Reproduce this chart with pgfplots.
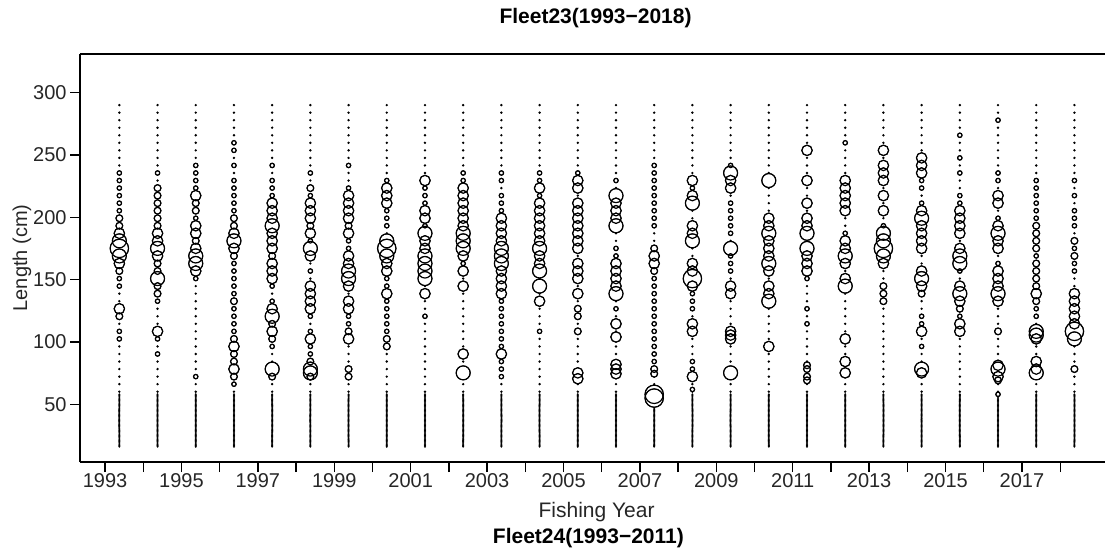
\documentclass[border=0pt]{standalone}
\usepackage{pgfplots}
\pgfplotsset{compat=1.18}
\usepackage{pgfplotstable}
\usepackage{fontspec}
\setmainfont{Liberation Sans}

% sparse length bins (every year)
\pgfplotstableread[row sep=\\]{
len\\ 290\\ 283.95\\ 277.9\\ 271.85\\ 265.8\\ 259.75\\ 253.7\\ 247.65\\ 241.6\\ 235.55\\
229.5\\ 223.45\\ 217.4\\ 211.35\\ 205.3\\ 199.25\\ 193.2\\ 187.15\\ 181.1\\ 175.05\\
169\\ 162.95\\ 156.9\\ 150.85\\ 144.8\\ 138.75\\ 132.7\\ 126.65\\ 120.6\\ 114.55\\
108.5\\ 102.45\\ 96.4\\ 90.35\\ 84.3\\ 78.25\\ 72.2\\ 66.15\\ 60.1\\
}\sparsetab
% dense length bins (every year)
\pgfplotstableread[row sep=\\]{
len\\ 16\\ 17\\ 18\\ 19\\ 20\\ 21\\ 22\\ 23\\ 24\\ 25\\ 26\\ 27\\ 28\\ 29\\ 30\\ 31\\ 32\\ 33\\ 34\\ 35\\
36\\ 37\\ 38\\ 39\\ 40\\ 41\\ 42\\ 43\\ 44\\ 45\\ 46\\ 47\\ 48\\ 49\\ 50\\ 51\\ 52\\ 53\\ 54\\ 55\\ 56\\ 57\\ 58\\
}\densetab
% bubbles: year, length, radius (pt)
\pgfplotstableread[row sep=\\]{
yr len r\\
1993 235.55 0.9\\ 1993 229.5 0.9\\ 1993 223.45 0.9\\ 1993 217.4 0.9\\ 1993 211.35 0.9\\ 1993 205.3 0.9\\ 1993 199.25 1.5\\ 1993 193.2 1.5\\ 1993 187.15 2.4\\ 1993 181.1 3.3\\ 1993 175.05 4.4\\ 1993 169 3.3\\ 1993 162.95 2.4\\ 1993 156.9 1.5\\ 1993 150.85 0.9\\ 1993 144.8 0.9\\ 1993 126.65 2.4\\ 1993 120.6 1.5\\ 1993 108.5 0.9\\ 1993 102.45 0.9\\
1994 235.55 0.9\\ 1994 223.45 1.5\\ 1994 217.4 1.5\\ 1994 211.35 1.5\\ 1994 205.3 1.5\\ 1994 199.25 1.5\\ 1994 193.2 1.5\\ 1994 187.15 2.4\\ 1994 181.1 2.4\\ 1994 175.05 3.3\\ 1994 169 2.4\\ 1994 162.95 1.5\\ 1994 156.9 1.5\\ 1994 150.85 3.3\\ 1994 144.8 1.5\\ 1994 138.75 1.5\\ 1994 132.7 0.9\\ 1994 108.5 2.4\\ 1994 102.45 0.9\\ 1994 90.35 0.9\\
1995 241.6 0.9\\ 1995 235.55 0.9\\ 1995 229.5 0.9\\ 1995 223.45 0.9\\ 1995 217.4 2.4\\ 1995 211.35 1.5\\ 1995 205.3 1.5\\ 1995 199.25 0.9\\ 1995 193.2 2.4\\ 1995 187.15 2.4\\ 1995 181.1 1.5\\ 1995 175.05 2.4\\ 1995 169 3.3\\ 1995 162.95 3.3\\ 1995 156.9 2.4\\ 1995 150.85 0.9\\ 1995 72.2 0.9\\
1996 259.75 0.9\\ 1996 253.7 0.9\\ 1996 241.6 0.9\\ 1996 229.5 0.9\\ 1996 223.45 0.9\\ 1996 217.4 0.9\\ 1996 211.35 0.9\\ 1996 205.3 0.9\\ 1996 199.25 1.5\\ 1996 193.2 1.5\\ 1996 187.15 2.4\\ 1996 181.1 3.3\\ 1996 175.05 2.4\\ 1996 169 1.5\\ 1996 162.95 0.9\\ 1996 156.9 0.9\\ 1996 150.85 0.9\\ 1996 144.8 0.9\\ 1996 138.75 0.9\\ 1996 132.7 1.5\\ 1996 126.65 0.9\\ 1996 120.6 0.9\\ 1996 114.55 0.9\\ 1996 108.5 0.9\\ 1996 102.45 1.5\\ 1996 96.4 2.4\\ 1996 90.35 1.5\\ 1996 84.3 1.5\\ 1996 78.25 2.4\\ 1996 72.2 1.5\\ 1996 66.15 0.9\\
1997 241.6 0.9\\ 1997 229.5 0.9\\ 1997 223.45 0.9\\ 1997 217.4 0.9\\ 1997 211.35 2.4\\ 1997 205.3 2.4\\ 1997 199.25 2.4\\ 1997 193.2 3.3\\ 1997 187.15 2.4\\ 1997 181.1 2.4\\ 1997 175.05 2.4\\ 1997 169 1.5\\ 1997 162.95 2.4\\ 1997 156.9 2.4\\ 1997 150.85 2.4\\ 1997 144.8 0.9\\ 1997 132.7 0.9\\ 1997 126.65 2.4\\ 1997 120.6 3.3\\ 1997 114.55 1.5\\ 1997 108.5 2.4\\ 1997 102.45 1.5\\ 1997 96.4 0.9\\ 1997 78.25 3.3\\ 1997 72.2 1.5\\
1998 235.55 0.9\\ 1998 223.45 1.5\\ 1998 217.4 0.9\\ 1998 211.35 2.4\\ 1998 205.3 2.4\\ 1998 199.25 2.4\\ 1998 193.2 1.5\\ 1998 187.15 2.4\\ 1998 181.1 0.9\\ 1998 175.05 3.3\\ 1998 169 2.4\\ 1998 156.9 0.9\\ 1998 144.8 2.4\\ 1998 138.75 2.4\\ 1998 132.7 2.4\\ 1998 126.65 2.4\\ 1998 120.6 0.9\\ 1998 108.5 0.9\\ 1998 102.45 2.4\\ 1998 96.4 0.9\\ 1998 90.35 0.9\\ 1998 84.3 1.5\\ 1998 78.25 3.3\\ 1998 75.2 3.3\\ 1998 72.2 1.5\\
1999 241.6 0.9\\ 1999 223.45 0.9\\ 1999 217.4 2.4\\ 1999 211.35 2.4\\ 1999 205.3 2.4\\ 1999 199.25 2.4\\ 1999 193.2 1.5\\ 1999 187.15 2.4\\ 1999 181.1 0.9\\ 1999 175.05 0.9\\ 1999 169 2.4\\ 1999 162.95 2.4\\ 1999 156.9 3.3\\ 1999 150.85 3.3\\ 1999 144.8 2.4\\ 1999 132.7 2.4\\ 1999 126.65 2.4\\ 1999 120.6 0.9\\ 1999 114.55 0.9\\ 1999 108.5 1.5\\ 1999 102.45 2.4\\ 1999 78.25 1.5\\ 1999 72.2 1.5\\
2000 229.5 0.9\\ 2000 223.45 2.4\\ 2000 217.4 2.4\\ 2000 211.35 2.4\\ 2000 205.3 0.9\\ 2000 199.25 0.9\\ 2000 193.2 0.9\\ 2000 181.1 3.3\\ 2000 175.05 4.4\\ 2000 169 3.3\\ 2000 162.95 2.4\\ 2000 156.9 2.4\\ 2000 150.85 0.9\\ 2000 144.8 0.9\\ 2000 138.75 2.4\\ 2000 132.7 0.9\\ 2000 126.65 0.9\\ 2000 120.6 0.9\\ 2000 114.55 0.9\\ 2000 108.5 0.9\\ 2000 102.45 1.5\\ 2000 96.4 1.5\\
2001 229.5 2.4\\ 2001 223.45 0.9\\ 2001 217.4 0.9\\ 2001 211.35 0.9\\ 2001 205.3 2.4\\ 2001 199.25 2.4\\ 2001 193.2 0.9\\ 2001 187.15 3.3\\ 2001 181.1 2.4\\ 2001 175.05 2.4\\ 2001 169 3.3\\ 2001 162.95 3.3\\ 2001 156.9 3.3\\ 2001 150.85 3.3\\ 2001 138.75 2.4\\ 2001 120.6 0.9\\
2002 235.55 0.9\\ 2002 229.5 0.9\\ 2002 223.45 2.4\\ 2002 217.4 2.4\\ 2002 211.35 2.4\\ 2002 205.3 2.4\\ 2002 199.25 2.4\\ 2002 193.2 2.4\\ 2002 187.15 3.3\\ 2002 181.1 3.3\\ 2002 175.05 3.3\\ 2002 169 2.4\\ 2002 162.95 0.9\\ 2002 156.9 2.4\\ 2002 144.8 2.4\\ 2002 90.35 2.4\\ 2002 75.2 3.3\\
2003 235.55 0.9\\ 2003 229.5 0.9\\ 2003 217.4 0.9\\ 2003 211.35 0.9\\ 2003 205.3 0.9\\ 2003 199.25 2.4\\ 2003 193.2 2.4\\ 2003 187.15 2.4\\ 2003 181.1 2.4\\ 2003 175.05 3.3\\ 2003 169 3.3\\ 2003 162.95 3.3\\ 2003 156.9 2.4\\ 2003 150.85 2.4\\ 2003 144.8 2.4\\ 2003 138.75 2.4\\ 2003 132.7 0.9\\ 2003 126.65 0.9\\ 2003 120.6 0.9\\ 2003 114.55 0.9\\ 2003 108.5 0.9\\ 2003 102.45 0.9\\ 2003 96.4 0.9\\ 2003 90.35 2.4\\ 2003 84.3 0.9\\ 2003 78.25 0.9\\ 2003 72.2 0.9\\
2004 235.55 0.9\\ 2004 229.5 0.9\\ 2004 223.45 2.4\\ 2004 217.4 0.9\\ 2004 211.35 2.4\\ 2004 205.3 2.4\\ 2004 199.25 2.4\\ 2004 193.2 2.4\\ 2004 187.15 2.4\\ 2004 181.1 2.4\\ 2004 175.05 3.3\\ 2004 169 2.4\\ 2004 162.95 2.4\\ 2004 156.9 3.3\\ 2004 144.8 3.3\\ 2004 132.7 2.4\\ 2004 108.5 0.9\\
2005 235.55 0.9\\ 2005 229.5 2.4\\ 2005 223.45 2.4\\ 2005 211.35 2.4\\ 2005 205.3 2.4\\ 2005 199.25 2.4\\ 2005 193.2 2.4\\ 2005 187.15 2.4\\ 2005 181.1 2.4\\ 2005 175.05 2.4\\ 2005 162.95 2.4\\ 2005 156.9 2.4\\ 2005 150.85 2.4\\ 2005 138.75 2.4\\ 2005 126.65 1.5\\ 2005 120.6 1.5\\ 2005 108.5 1.5\\ 2005 75.2 2.4\\ 2005 70.5 2.4\\
2006 229.5 0.9\\ 2006 217.4 3.3\\ 2006 211.35 2.4\\ 2006 205.3 2.4\\ 2006 199.25 2.4\\ 2006 193.2 3.3\\ 2006 175.05 0.9\\ 2006 169 0.9\\ 2006 162.95 2.4\\ 2006 156.9 2.4\\ 2006 150.85 2.4\\ 2006 144.8 2.4\\ 2006 138.75 3.3\\ 2006 126.65 0.9\\ 2006 114.55 2.4\\ 2006 104 2.4\\ 2006 82 2.4\\ 2006 78.25 2.4\\ 2006 74.5 2.4\\
2007 241.6 0.9\\ 2007 235.55 0.9\\ 2007 229.5 0.9\\ 2007 223.45 0.9\\ 2007 217.4 0.9\\ 2007 211.35 0.9\\ 2007 205.3 0.9\\ 2007 199.25 0.9\\ 2007 193.2 0.9\\ 2007 175.05 1.5\\ 2007 169 2.4\\ 2007 162.95 2.4\\ 2007 156.9 1.5\\ 2007 150.85 0.9\\ 2007 144.8 0.9\\ 2007 138.75 0.9\\ 2007 132.7 0.9\\ 2007 126.65 0.9\\ 2007 120.6 0.9\\ 2007 114.55 0.9\\ 2007 108.5 0.9\\ 2007 102.45 0.9\\ 2007 96.4 0.9\\ 2007 90.35 0.9\\ 2007 84.3 0.9\\ 2007 78.25 1.5\\ 2007 74.5 1.5\\ 2007 58 4.4\\ 2007 55 4.4\\
2008 229.5 2.4\\ 2008 223.45 0.9\\ 2008 217.4 2.4\\ 2008 211.35 3.3\\ 2008 193.2 2.4\\ 2008 187.15 2.4\\ 2008 181.1 3.3\\ 2008 162.95 2.4\\ 2008 156.9 2.4\\ 2008 150.85 4.4\\ 2008 144.8 2.4\\ 2008 138.75 0.9\\ 2008 132.7 0.9\\ 2008 126.65 0.9\\ 2008 114.55 2.4\\ 2008 108.5 2.4\\ 2008 84.3 0.9\\ 2008 78.25 0.9\\ 2008 72.2 2.4\\ 2008 61.9 0.9\\
2009 241.6 0.9\\ 2009 235.55 3.3\\ 2009 229.5 2.4\\ 2009 223.45 2.4\\ 2009 211.35 0.9\\ 2009 205.3 0.9\\ 2009 199.25 0.9\\ 2009 193.2 0.9\\ 2009 187.15 0.9\\ 2009 175.05 3.3\\ 2009 169 0.9\\ 2009 162.95 0.9\\ 2009 156.9 0.9\\ 2009 144.8 2.4\\ 2009 138.75 2.4\\ 2009 108.5 2.4\\ 2009 105.5 2.4\\ 2009 102.45 2.4\\ 2009 75.2 3.3\\
2010 229.5 3.3\\ 2010 199.25 2.4\\ 2010 193.2 2.4\\ 2010 187.15 3.3\\ 2010 181.1 2.4\\ 2010 175.05 2.4\\ 2010 169 2.4\\ 2010 162.95 3.3\\ 2010 156.9 2.4\\ 2010 144.8 2.4\\ 2010 138.75 2.4\\ 2010 132.7 3.3\\ 2010 96.4 2.4\\
2011 253.7 2.4\\ 2011 229.5 2.4\\ 2011 211.35 2.4\\ 2011 199.25 2.4\\ 2011 193.2 2.4\\ 2011 187.15 3.3\\ 2011 175.05 3.3\\ 2011 169 2.4\\ 2011 162.95 2.4\\ 2011 156.9 2.4\\ 2011 150.85 0.9\\ 2011 126.65 0.9\\ 2011 114.55 0.9\\ 2011 81.3 1.5\\ 2011 78.25 1.5\\ 2011 72.2 1.5\\ 2011 69.2 1.5\\
2012 259.75 0.9\\ 2012 229.5 2.4\\ 2012 223.45 2.4\\ 2012 217.4 2.4\\ 2012 211.35 2.4\\ 2012 205.3 2.4\\ 2012 187.15 0.9\\ 2012 181.1 2.4\\ 2012 175.05 2.4\\ 2012 169 3.3\\ 2012 162.95 2.4\\ 2012 150.85 2.4\\ 2012 144.8 3.3\\ 2012 102.45 2.4\\ 2012 84.3 2.4\\ 2012 75.2 2.4\\
2013 253.7 2.4\\ 2013 241.6 2.4\\ 2013 235.55 2.4\\ 2013 229.5 2.4\\ 2013 217.4 2.4\\ 2013 205.3 2.4\\ 2013 193.2 0.9\\ 2013 187.15 3.3\\ 2013 181.1 3.3\\ 2013 175.05 4.4\\ 2013 169 3.3\\ 2013 162.95 2.4\\ 2013 144.8 1.5\\ 2013 138.75 1.5\\ 2013 132.7 1.5\\
2014 247.65 2.4\\ 2014 241.6 2.4\\ 2014 235.55 2.4\\ 2014 229.5 0.9\\ 2014 223.45 0.9\\ 2014 211.35 0.9\\ 2014 205.3 2.4\\ 2014 199.25 3.3\\ 2014 193.2 2.4\\ 2014 187.15 2.4\\ 2014 181.1 2.4\\ 2014 175.05 2.4\\ 2014 156.9 2.4\\ 2014 150.85 3.3\\ 2014 144.8 2.4\\ 2014 138.75 1.5\\ 2014 120.6 0.9\\ 2014 114.55 0.9\\ 2014 108.5 2.4\\ 2014 96.4 0.9\\ 2014 78.25 3.3\\ 2014 75.2 2.4\\
2015 265.8 0.9\\ 2015 247.65 0.9\\ 2015 235.55 0.9\\ 2015 217.4 0.9\\ 2015 211.35 0.9\\ 2015 205.3 2.4\\ 2015 199.25 2.4\\ 2015 193.2 2.4\\ 2015 187.15 2.4\\ 2015 175.05 2.4\\ 2015 169 3.3\\ 2015 162.95 3.3\\ 2015 156.9 0.9\\ 2015 144.8 2.4\\ 2015 138.75 3.3\\ 2015 132.7 2.4\\ 2015 126.65 1.5\\ 2015 120.6 0.9\\ 2015 114.55 2.4\\ 2015 108.5 2.4\\
2016 277.9 0.9\\ 2016 235.55 0.9\\ 2016 229.5 0.9\\ 2016 217.4 2.4\\ 2016 211.35 2.4\\ 2016 199.25 0.9\\ 2016 193.2 2.4\\ 2016 187.15 3.3\\ 2016 181.1 2.4\\ 2016 175.05 2.4\\ 2016 162.95 0.9\\ 2016 156.9 2.4\\ 2016 150.85 2.4\\ 2016 144.8 2.4\\ 2016 138.75 3.3\\ 2016 132.7 2.4\\ 2016 108.5 1.5\\ 2016 81.3 2.4\\ 2016 78.25 3.3\\ 2016 72.2 2.4\\ 2016 69.2 1.5\\ 2016 58 0.9\\
2017 229.5 0.9\\ 2017 223.45 0.9\\ 2017 217.4 0.9\\ 2017 211.35 0.9\\ 2017 205.3 0.9\\ 2017 199.25 0.9\\ 2017 193.2 1.5\\ 2017 187.15 1.5\\ 2017 181.1 1.5\\ 2017 175.05 1.5\\ 2017 169 0.9\\ 2017 162.95 1.5\\ 2017 156.9 1.5\\ 2017 150.85 1.5\\ 2017 144.8 1.5\\ 2017 138.75 2.4\\ 2017 132.7 1.5\\ 2017 126.65 0.9\\ 2017 120.6 0.9\\ 2017 108.5 3.3\\ 2017 105.5 3.3\\ 2017 102.45 2.4\\ 2017 84.3 2.4\\ 2017 78.25 2.4\\ 2017 75.2 3.3\\
2018 229.5 0.9\\ 2018 217.4 0.9\\ 2018 205.3 0.9\\ 2018 199.25 0.9\\ 2018 193.2 0.9\\ 2018 181.1 1.5\\ 2018 175.05 0.9\\ 2018 169 1.5\\ 2018 162.95 0.9\\ 2018 156.9 0.9\\ 2018 138.75 2.4\\ 2018 132.7 2.4\\ 2018 126.65 2.4\\ 2018 120.6 2.4\\ 2018 114.55 2.4\\ 2018 108.5 4.4\\ 2018 102.45 3.3\\ 2018 78.25 1.5\\
}\bubtab

\begin{document}
\begin{tikzpicture}
\useasboundingbox (0,0) rectangle (552.5pt,277pt);
\begin{axis}[
  at={(40pt,46pt)}, anchor=south west,
  scale only axis, width=512.5pt, height=204pt,
  xmin=1991.97, xmax=2018.80, ymin=3.7, ymax=331,
  axis x line*=bottom, axis y line*=left,
  axis line style={-, line width=0.65pt, black},
  every tick/.style={black, line width=0.65pt},
  tick align=outside, major tick length=5pt,
  xtick={1992.626,1993.626,1994.626,1995.626,1996.626,1997.626,1998.626,1999.626,2000.626,2001.626,2002.626,2003.626,2004.626,2005.626,2006.626,2007.626,2008.626,2009.626,2010.626,2011.626,2012.626,2013.626,2014.626,2015.626,2016.626,2017.626},
  xticklabels={1993,,1995,,1997,,1999,,2001,,2003,,2005,,2007,,2009,,2011,,2013,,2015,,2017,},
  ytick={50,100,150,200,250,300},
  /pgf/number format/assume math mode=true,
  tick label style={font=\fontsize{10}{12}\selectfont, black!85},
  xticklabel style={inner sep=0.5pt},
  yticklabel style={inner sep=1.5pt},
  xlabel={Fishing Year},
  xlabel style={at={(axis description cs:0.504,0)}, anchor=center, yshift=-25pt, font=\fontsize{10.5}{12}\selectfont, black!85},
  ylabel={Length (cm)},
  ylabel style={at={(axis description cs:-0.0566,0.5)}, anchor=center, font=\fontsize{10}{12}\selectfont, black!85},
  every axis title shift=0pt,
  title={Fleet23(1993−2018)},
  title style={at={(axis description cs:0.503,1)}, anchor=center, yshift=18pt, font=\bfseries\fontsize{10.5}{12}\selectfont},
  clip=false,
]
\pgfplotsinvokeforeach{1993,...,2018}{
  \addplot[only marks, mark=*, mark size=0.38pt, draw=none, fill=black!45] table[x expr=#1, y=len]{\sparsetab};
  \addplot[only marks, mark=*, mark size=0.28pt, draw=none, fill=black!35] table[x expr=#1, y=len]{\densetab};
}
% white underlay so that the bin dots do not show inside the bubbles
\addplot[scatter, only marks, mark=*,
  scatter/use mapped color={draw=none, fill=white},
  visualization depends on={\thisrow{r}+0.2 \as \rr},
  scatter/@pre marker code/.append style={/tikz/mark size=\rr},
] table[x=yr, y=len, meta=r]{\bubtab};
% bubble outlines
\addplot[scatter, only marks, mark=o, line width=0.6pt,
  scatter/use mapped color={draw=black, fill=none},
  visualization depends on={\thisrow{r}+0.2 \as \rr},
  scatter/@pre marker code/.append style={/tikz/mark size=\rr},
] table[x=yr, y=len, meta=r]{\bubtab};
\draw[line width=0.65pt] (rel axis cs:0,1) -- (rel axis cs:1,1);
\node[font=\bfseries\fontsize{10.5}{12}\selectfont] at (axis description cs:0.496,0) [yshift=-38pt] {Fleet24(1993−2011)};
\end{axis}
\end{tikzpicture}
\end{document}
